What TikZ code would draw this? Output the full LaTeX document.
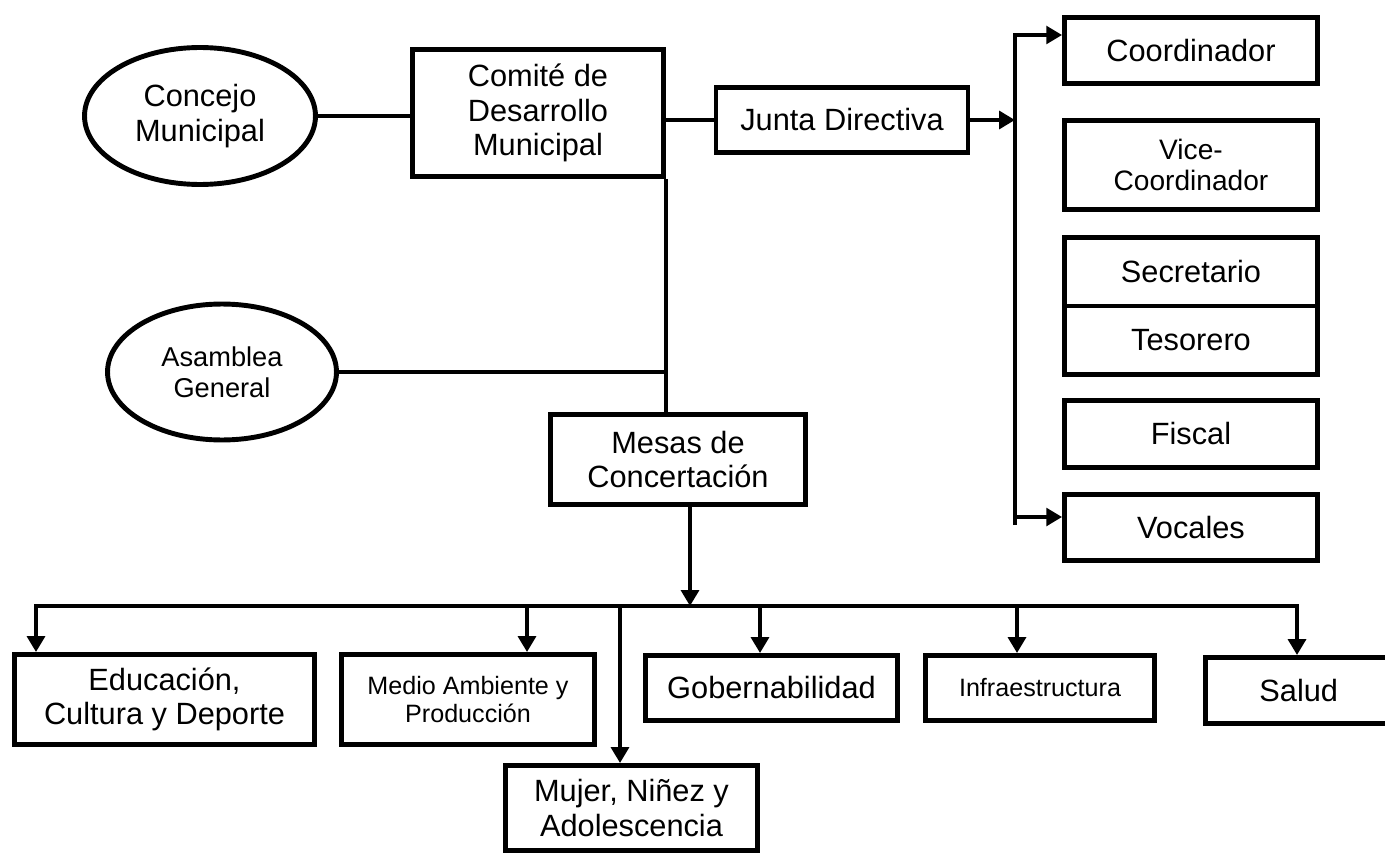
\documentclass[tikz,border=0pt]{standalone}
\usepackage{fontspec}
\setmainfont{Liberation Sans}
\usetikzlibrary{arrows.meta,shapes.geometric}

\tikzset{
  caja/.style={draw, line width=2.8pt, align=center, inner sep=0pt,
    font=\fontsize{17.5}{19.5}\selectfont},
  elipse/.style={caja, ellipse},
  chica/.style={font=\fontsize{14.3}{16}\selectfont},
  linea/.style={line width=2.5pt},
  bus/.style={line width=2.5pt, line cap=rect},
  flecha/.style={line width=2.5pt, -{Triangle[length=9pt,width=10pt]}},
}

\begin{document}
\begin{tikzpicture}[x=0.02cm,y=-0.02cm]
  \useasboundingbox (0,0) rectangle (1385,855);

  % Consejo y Comite
  \node[elipse, minimum width=4.62cm, minimum height=2.74cm] (concejo) at (200,116) {Concejo\\Municipal};
  \node[caja, minimum width=5.02cm, minimum height=2.54cm] (comite) at (538,113) {Comité de\\Desarrollo\\Municipal};
  \node[caja, minimum width=5.04cm, minimum height=1.30cm] (junta) at (842,120) {Junta Directiva};
  \node[elipse, font=\fontsize{15.5}{17.5}\selectfont, minimum width=4.58cm, minimum height=2.72cm] (asamblea) at (222,372) {Asamblea\\General};
  \node[caja, minimum width=5.10cm, minimum height=1.80cm] (mesas) at (678,459.5) {Mesas de\\Concertación};

  % Junta Directiva
  \node[caja, minimum width=5.06cm, minimum height=1.32cm] (coord) at (1191,50.5) {Coordinador};
  \node[caja, font=\fontsize{16}{18}\selectfont, minimum width=5.06cm, minimum height=1.78cm] (vice) at (1191,165) {Vice-\\Coordinador};
  \node[caja, minimum width=5.06cm, minimum height=1.37cm] (secre) at (1191,271.75) {Secretario};
  \node[caja, minimum width=5.06cm, minimum height=1.37cm] (teso) at (1191,340.25) {Tesorero};
  \node[caja, minimum width=5.06cm, minimum height=1.34cm] (fiscal) at (1191,434) {Fiscal};
  \node[caja, minimum width=5.06cm, minimum height=1.32cm] (vocales) at (1191,527.5) {Vocales};

  % Mesas
  \node[caja, minimum width=6.00cm, minimum height=1.80cm] (educ) at (164.5,699.5) {Educación,\\Cultura y Deporte};
  \node[caja, chica, minimum width=5.06cm, minimum height=1.80cm] (medio) at (468,699.5) {Medio Ambiente y\\Producción};
  \node[caja, minimum width=5.04cm, minimum height=1.70cm] (mujer) at (631.5,808) {Mujer, Niñez y\\Adolescencia};
  \node[caja, minimum width=5.04cm, minimum height=1.30cm] (gob) at (771.5,688) {Gobernabilidad};
  \node[caja, chica, minimum width=4.58cm, minimum height=1.30cm] (infra) at (1040,688) {Infraestructura};
  \node[caja, minimum width=3.73cm, minimum height=1.32cm] (salud) at (1298.75,690.5) {Salud};

  % Lineas de arriba
  \draw[linea] (concejo.east) -- (concejo.east -| comite.west);
  \draw[linea] (junta.west -| comite.east) -- (junta.west);
  \draw[linea] (comite.south east) -- (comite.south east |- mesas.north);
  \draw[linea] (asamblea.east) -- (asamblea.east -| comite.south east);

  % Bus de la Junta
  \coordinate (busT) at (1015,35);
  \coordinate (busB) at (1015,525);
  \coordinate (busV) at (1015,517);
  \draw[flecha] (junta.east) -- (junta.east -| busT);
  \draw[flecha] (busB) -- (busT) -- (busT -| coord.west);
  \draw[flecha] (busV) -- (busV -| vocales.west);

  % Bus de las Mesas
  \coordinate (bmesas) at (690,606);
  \draw[flecha] (mesas.south -| bmesas) -- (bmesas);
  \foreach \x/\n in {36/educ, 527/medio, 620/mujer, 760/gob, 1017/infra, 1297/salud}
    \coordinate (b\n) at (\x,606);
  \draw[bus] (beduc) -- (bsalud);
  \foreach \n in {educ, medio, mujer, gob, infra, salud}
    \draw[flecha] (b\n) -- (b\n |- \n.north);
\end{tikzpicture}
\end{document}
